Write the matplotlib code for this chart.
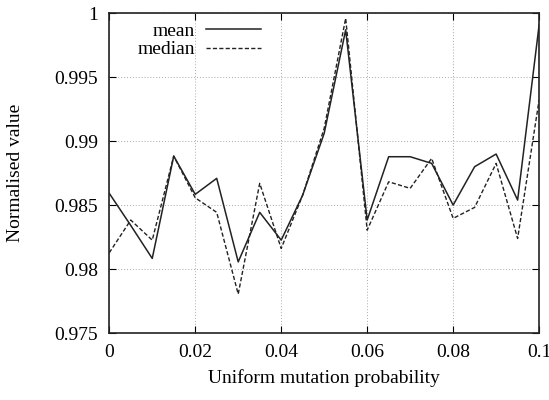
import matplotlib
matplotlib.use("Agg")
import matplotlib.pyplot as plt
import numpy as np

prob = [0.0, 0.005, 0.01, 0.015, 0.02, 0.025, 0.03, 0.035, 0.04, 0.045, 0.05,
        0.055, 0.06, 0.065, 0.07, 0.075, 0.08, 0.085, 0.09, 0.095, 0.1]
mean_vals = [0.98592, 0.98341, 0.98083, 0.98883, 0.98584, 0.98709, 0.98056, 0.98443,
             0.98226, 0.98578, 0.99061, 0.9987, 0.98383, 0.98878, 0.98878, 0.98826,
             0.98500, 0.98800, 0.98899, 0.98539, 0.99908]
median_vals = [0.98127, 0.98383, 0.98226, 0.98883, 0.98557, 0.98443, 0.97804, 0.98670,
               0.98161, 0.98578, 0.99100, 0.99960, 0.98304, 0.98682, 0.98631, 0.98865,
               0.98396, 0.98482, 0.98826, 0.98239, 0.99322]
xticks = [0, 0.02, 0.04, 0.06, 0.08, 0.1]
xticklabels = ["0", "0.02", "0.04", "0.06", "0.08", "0.1"]
yticks = [0.975, 0.98, 0.985, 0.99, 0.995, 1.0]
yticklabels = ["0.975", "0.98", "0.985", "0.99", "0.995", "1"]

plt.rcParams['font.family'] = ['Liberation Serif', 'DejaVu Serif']
plt.rcParams['font.size'] = 14

fig = plt.figure(figsize=(5.49, 4.0), dpi=100)
ax = fig.add_axes([0.199, 0.1675, 0.783, 0.7995])

ax.plot(prob, mean_vals, color='#222222', lw=1.1, label='mean')
ax.plot(prob, median_vals, color='#222222', lw=1.0, ls=(0, (3, 1.6)), label='median')

ax.set_xlim(0, 0.1)
ax.set_ylim(0.975, 1.0)
ax.set_xticks(xticks)
ax.set_xticklabels(xticklabels)
ax.set_yticks(yticks)
ax.set_yticklabels(yticklabels)
ax.grid(True, color='#aaaaaa', ls=(0, (1, 2)), lw=0.7)
ax.tick_params(direction='in', top=True, right=True, length=5, width=0.8, pad=8)
for s in ax.spines.values():
    s.set_linewidth(1.2)
    s.set_color('#222222')

ax.set_xlabel('Uniform mutation probability', labelpad=6)
ax.set_ylabel('Normalised value', labelpad=22)

ax.legend(loc='upper left', frameon=False, markerfirst=False, handlelength=2.8,
          handletextpad=0.6, labelspacing=0.05, borderaxespad=0.15,
          bbox_to_anchor=(0.04, 1.005))

fig.savefig('out.png', dpi=100)
